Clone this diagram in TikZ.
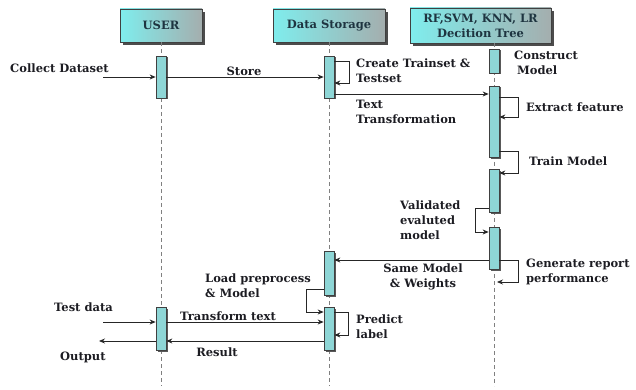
\documentclass[tikz,border=0pt]{standalone}
\usepackage{fontspec}
\setmainfont{DejaVu Serif}
\usetikzlibrary{arrows.meta,shadows}
\definecolor{ink}{HTML}{1C1C22}
\definecolor{headcyan}{HTML}{7FEDED}
\definecolor{headgray}{HTML}{A4AEAE}
\definecolor{barcyan}{HTML}{8ED6D6}
\definecolor{headink}{HTML}{1E3440}
\begin{document}
\begin{tikzpicture}[x=1pt,y=-1pt,
  font=\bfseries\fontsize{11.5}{15}\selectfont, text=ink,
  head/.style={draw=black!75, line width=0.7pt, left color=headcyan, right color=headgray,
    minimum height=33, align=center, inner sep=0, text=headink,
    drop shadow={shadow xshift=3pt, shadow yshift=-3pt, fill=black!70, opacity=1}},
  actbar/.style={draw=black!75, line width=0.7pt, fill=barcyan, minimum width=10, inner sep=0,
    drop shadow={shadow xshift=2pt, shadow yshift=-1.5pt, fill=black!65, opacity=1}},
  lifeline/.style={draw=black!50, line width=0.8pt, dash pattern=on 4pt off 3pt},
  msg/.style={draw=black!85, line width=0.8pt, -{Stealth[length=6pt,width=5pt]}},
  lbl/.style={anchor=west, align=left, inner sep=0},
  clbl/.style={align=center, inner sep=0}]
\useasboundingbox (0,0) rectangle (636,390);

% headers
\node[head, minimum width=82] (user) at (161,25.5) {USER};
\node[head, minimum width=112] (ds) at (329,25.5) {Data Storage};
\node[head, minimum width=141, minimum height=35] (rf) at (480.5,25.5) {RF,SVM, KNN, LR\\Decition Tree};

% lifeline ends
\coordinate (uend) at (161,386);
\coordinate (dend) at (329,386);
\coordinate (rend) at (494,386);
\coordinate (rtop) at (494,43);
\draw[lifeline] (user.south) -- (uend);
\draw[lifeline] (ds.south) -- (dend);
\draw[lifeline] (rtop) -- (rend);

% activation bars
\node[actbar, minimum height=42] (u1) at (161,77) {};
\node[actbar, minimum height=43] (u2) at (161,328.5) {};
\node[actbar, minimum height=42] (d1) at (329,77) {};
\node[actbar, minimum height=44] (d2) at (329,273) {};
\node[actbar, minimum height=43] (d3) at (329,328.5) {};
\node[actbar, minimum height=24] (r0) at (494,61) {};
\node[actbar, minimum height=71] (r1) at (494,121.5) {};
\node[actbar, minimum height=43] (r2) at (494,190.5) {};
\node[actbar, minimum height=42] (r3) at (494,248) {};

% free ends
\coordinate (cin) at (103,77);
\coordinate (tin) at (103,322);
\coordinate (tout) at (99,341);
\coordinate (genend) at (497,282);

% messages
\draw[msg] (cin) -- (u1.west |- cin);
\draw[msg] (u1.east) -- (d1.west);
\draw[msg] (d1.east |- 0,61) -- (349,61) -- (349,83) -- (d1.east |- 0,83);
\draw[msg] (d1.east |- 0,94) -- (r1.west |- 0,94);
\draw[msg] (r1.east |- 0,97) -- (518,97) -- (518,117) -- (r1.east |- 0,117);
\draw[msg] (r1.east |- 0,151) -- (518,151) -- (518,173) -- (r2.east |- 0,173);
\draw[msg] (r2.west |- 0,208) -- (475,208) -- (475,232) -- (r3.west |- 0,232);
\draw[msg] (r3.west |- 0,260) -- (d2.east |- 0,260);
\draw[msg] (r3.east |- 0,260) -- (518,260) -- (518,282) -- (genend);
\draw[msg] (d2.west |- 0,289) -- (306,289) -- (306,312) -- (d3.west |- 0,312);
\draw[msg] (u2.east |- 0,322) -- (d3.west |- 0,322);
\draw[msg] (d3.east |- 0,312) -- (348,312) -- (348,335) -- (d3.east |- 0,335);
\draw[msg] (d3.west |- 0,341) -- (u2.east |- 0,341);
\draw[msg] (tin) -- (u2.west |- tin);
\draw[msg] (u2.west |- 0,341) -- (tout);

% labels
\node[lbl] (l1) at (10,68) {Collect Dataset};
\node[clbl] (l2) at (244,71) {Store};
\node[lbl] (l3) at (356,70.5) {Create Trainset \&\\Testset};
\node[lbl] (l4) at (514,62.5) {Construct\\\hspace{3pt}Model};
\node[lbl] (l5) at (356,112) {Text\\Transformation};
\node[lbl] (l6) at (526,107) {Extract feature};
\node[lbl] (l7) at (529,161) {Train Model};
\node[lbl] (l8) at (400,220.5) {Validated\\evaluted\\model};
\node[clbl] (l9) at (423,277) {Same Model\\\& Weights};
\node[lbl] (l10) at (526,271.5) {Generate report\\performance};
\node[lbl] (l11) at (205,286) {Load preprocess\\\& Model};
\node[lbl] (l12) at (54,307) {Test data};
\node[lbl] (l13) at (180,316) {Transform text};
\node[lbl] (l14) at (356,327) {Predict\\label};
\node[clbl] (l15) at (217,352) {Result};
\node[lbl] (l16) at (60,357) {Output};
\end{tikzpicture}
\end{document}
